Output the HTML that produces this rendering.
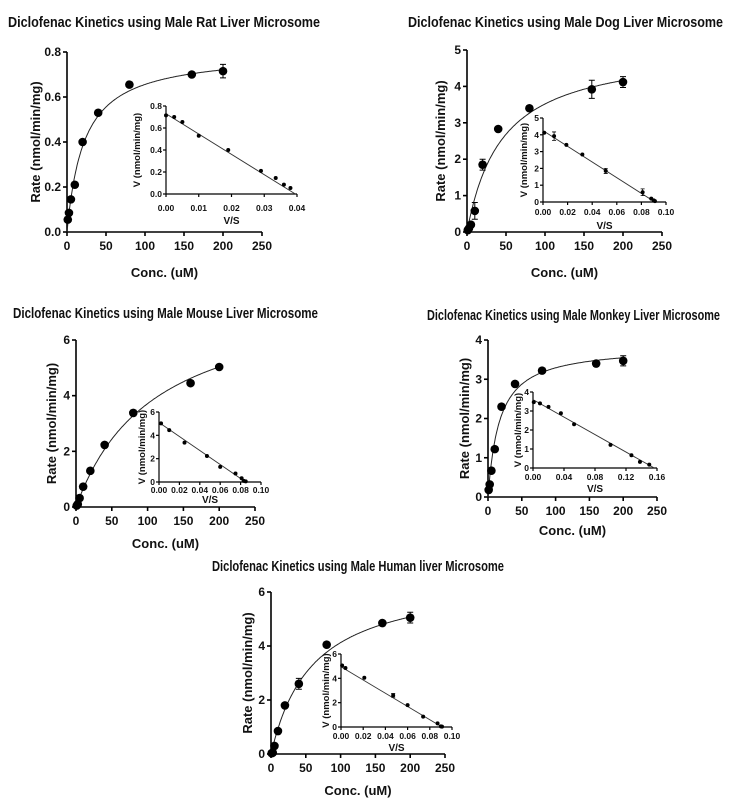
<!DOCTYPE html>
<html><head><meta charset="utf-8">
<style>
html,body{margin:0;padding:0;background:#fff;}
svg{display:block;font-family:"Liberation Sans",sans-serif;}
</style></head>
<body>
<svg id="fig" width="734" height="805" viewBox="0 0 734 805"></svg>
<script>
// ---- data ----
const conc = [1, 2.5, 5, 10, 20, 40, 80, 160, 200];
const ratRate = [0.055, 0.085, 0.145, 0.21, 0.40, 0.53, 0.655, 0.70, 0.715];
const ratErr = [0, 0, 0, 0, 0, 0, 0, 0, 0.03];
const dogRate = [0.05, 0.1, 0.2, 0.58, 1.85, 2.83, 3.4, 3.92, 4.12];
const dogErr = [0, 0, 0, 0.23, 0.15, 0, 0, 0.25, 0.15];
const mouseRate = [0.05, 0.1, 0.32, 0.73, 1.3, 2.23, 3.38, 4.45, 5.03];
const mouseErr = [0, 0, 0, 0, 0, 0, 0.1, 0.08, 0.06];
const monkeyRate = [0.18, 0.32, 0.67, 1.22, 2.3, 2.88, 3.22, 3.4, 3.47];
const monkeyErr = [0, 0, 0, 0, 0, 0, 0, 0.05, 0.13];
const humanRate = [0.03, 0.05, 0.3, 0.85, 1.8, 2.6, 4.05, 4.85, 5.05];
const humanErr = [0, 0, 0, 0, 0, 0.2, 0, 0.06, 0.2];
// Michaelis-Menten fit params [Vmax, Km]
const ratFit = [0.8, 22];
const dogFit = [5.1, 45];
const mouseFit = [7.8, 110];
const monkeyFit = [3.85, 17];
const humanFit = [6.6, 60];
// Eadie-Hofstee inset data: V/S and V
const ratVS = [0, 0.0025, 0.005, 0.01, 0.019, 0.029, 0.0335, 0.036, 0.038];
const ratV = [0.715, 0.70, 0.655, 0.53, 0.40, 0.21, 0.145, 0.085, 0.055];
const dogVS = [0.001, 0.009, 0.019, 0.032, 0.051, 0.081, 0.088, 0.09, 0.091];
const dogV = [4.12, 3.92, 3.4, 2.83, 1.85, 0.58, 0.2, 0.1, 0.05];
const dogVErr = [0, 0.25, 0, 0, 0.15, 0.2, 0, 0, 0];
const mouseVS = [0.002, 0.01, 0.025, 0.047, 0.06, 0.075, 0.081, 0.083, 0.085];
const mouseV = [5.03, 4.45, 3.38, 2.23, 1.3, 0.73, 0.32, 0.1, 0.05];
const monkeyVS = [0.001, 0.009, 0.02, 0.036, 0.053, 0.1, 0.127, 0.138, 0.15];
const monkeyV = [3.47, 3.4, 3.22, 2.88, 2.3, 1.22, 0.67, 0.32, 0.18];
const humanVS = [0.001, 0.004, 0.021, 0.047, 0.06, 0.074, 0.087, 0.09, 0.091];
const humanV = [5.05, 4.85, 4.05, 2.6, 1.8, 0.85, 0.3, 0.05, 0.03];
const humanVErr = [0, 0, 0, 0.15, 0, 0, 0, 0, 0];
// inset regression lines [intercept V, x-intercept V/S]
const ratLine = [0.73, 0.0395];
const dogLine = [4.25, 0.091];
const mouseLine = [5.1, 0.085];
const monkeyLine = [3.6, 0.1565];
const humanLine = [4.95, 0.091];
// tick labels
const xTicksMain = [0, 50, 100, 150, 200, 250];
const ratYTicks = ["0.0","0.2","0.4","0.6","0.8"];
const dogYTicks = ["0","1","2","3","4","5"];
const sixTicks = ["0","2","4","6"];
const fourTicks = ["0","1","2","3","4"];
const ratInsetX = ["0.00","0.01","0.02","0.03","0.04"];
const tenInsetX = ["0.00","0.02","0.04","0.06","0.08","0.10"];
const monkeyInsetX = ["0.00","0.04","0.08","0.12","0.16"];
const titles = [
 "Diclofenac Kinetics using Male Rat Liver Microsome",
 "Diclofenac Kinetics using Male Dog Liver Microsome",
 "Diclofenac Kinetics using Male Mouse Liver Microsome",
 "Diclofenac Kinetics using Male Monkey Liver Microsome",
 "Diclofenac Kinetics using Male Human liver Microsome"];

// ---- layout ----
const panels = [
 {key:"rat", title:titles[0], tx:8, tw:312, ty:27, rate:ratRate, err:ratErr, fit:ratFit, yT:ratYTicks,
  m:{x0:67,x1:262,y0:232,y1:52}, ytl:40, xtY:277,
  vs:ratVS, v:ratV, verr:null, line:ratLine, ixT:ratInsetX, iyT:ratYTicks,
  i:{x0:166,x1:297,y0:194,y1:106}, iytl:140, iticY:211, ivsY:224},
 {key:"dog", title:titles[1], tx:408, tw:315, ty:27, rate:dogRate, err:dogErr, fit:dogFit, yT:dogYTicks,
  m:{x0:467,x1:662,y0:232,y1:50}, ytl:445, xtY:277,
  vs:dogVS, v:dogV, verr:dogVErr, line:dogLine, ixT:tenInsetX, iyT:dogYTicks,
  i:{x0:543,x1:666,y0:202,y1:118}, iytl:527, iticY:215, ivsY:229},
 {key:"mouse", title:titles[2], tx:13, tw:305, ty:318, rate:mouseRate, err:mouseErr, fit:mouseFit, yT:sixTicks,
  m:{x0:76,x1:255,y0:507,y1:340}, ytl:56, xtY:548,
  vs:mouseVS, v:mouseV, verr:null, line:mouseLine, ixT:tenInsetX, iyT:sixTicks,
  i:{x0:159,x1:261,y0:482,y1:412}, iytl:145, iticY:493, ivsY:503},
 {key:"monkey", title:titles[3], tx:427, tw:293, ty:320, rate:monkeyRate, err:monkeyErr, fit:monkeyFit, yT:fourTicks,
  m:{x0:488,x1:657,y0:497,y1:340}, ytl:469, xtY:535,
  vs:monkeyVS, v:monkeyV, verr:null, line:monkeyLine, ixT:monkeyInsetX, iyT:fourTicks,
  i:{x0:533,x1:657,y0:468,y1:392}, iytl:521, iticY:480, ivsY:492},
 {key:"human", title:titles[4], tx:212, tw:292, ty:571, rate:humanRate, err:humanErr, fit:humanFit, yT:sixTicks,
  m:{x0:271,x1:445,y0:754,y1:592}, ytl:252, xtY:795,
  vs:humanVS, v:humanV, verr:humanVErr, line:humanLine, ixT:tenInsetX, iyT:sixTicks,
  i:{x0:341,x1:452,y0:727,y1:654}, iytl:329, iticY:739, ivsY:751}
];

const NS = "http://www.w3.org/2000/svg";
const svg = document.getElementById("fig");
function mk(tag, attrs, parent, txt){
  const e = document.createElementNS(NS, tag);
  for (const k in attrs) e.setAttribute(k, attrs[k]);
  if (txt !== undefined) e.textContent = txt;
  parent.appendChild(e);
  return e;
}
function scale(d0, d1, r0, r1){ return v => r0 + (v - d0) / (d1 - d0) * (r1 - r0); }

panels.forEach(p => {
  const g = mk("g", {}, svg);
  
  

  const t = mk("text", {x:p.tx, y:p.ty, "font-size":15, "font-weight":"bold", textLength:p.tw, lengthAdjust:"spacingAndGlyphs", fill:"#111"}, g, p.title);
  
  

  // ---- main plot ----
  const yMax = parseFloat(p.yT[p.yT.length-1]);
  const X = scale(0, 250, p.m.x0, p.m.x1);
  const Y = scale(0, yMax, p.m.y0, p.m.y1);
  const ax = mk("g", {stroke:"#000", "stroke-width":1.6, fill:"none"}, g);
  
  
  mk("line", {x1:p.m.x0, y1:p.m.y1, x2:p.m.x0, y2:p.m.y0}, ax);
  mk("line", {x1:p.m.x0, y1:p.m.y0, x2:p.m.x1, y2:p.m.y0}, ax);
  xTicksMain.forEach(v => {
    mk("line", {x1:X(v), y1:p.m.y0, x2:X(v), y2:p.m.y0+4}, ax);
    const tl = mk("text", {x:X(v), y:p.m.y0+18, "font-size":12, "font-weight":"bold", "text-anchor":"middle", stroke:"none", fill:"#111"}, g, v);
    
    
  });
  p.yT.forEach(s => {
    const v = parseFloat(s);
    mk("line", {x1:p.m.x0-4, y1:Y(v), x2:p.m.x0, y2:Y(v)}, ax);
    const tl = mk("text", {x:p.m.x0-6, y:Y(v)+4, "font-size":12, "font-weight":"bold", "text-anchor":"end", stroke:"none", fill:"#111"}, g, s);
    
    
  });
  const xt = mk("text", {x:(p.m.x0+p.m.x1)/2, y:p.xtY, "font-size":13, "font-weight":"bold", "text-anchor":"middle", fill:"#111"}, g, "Conc. (uM)");
  
  
  const ymid = (p.m.y0+p.m.y1)/2;
  const yt = mk("text", {x:p.ytl, y:ymid, "font-size":13, "font-weight":"bold", "text-anchor":"middle", transform:`rotate(-90 ${p.ytl} ${ymid})`, fill:"#111"}, g, "Rate (nmol/min/mg)");
  
  

  // fit curve
  let d = "";
  for (let s = 0; s <= 200; s += 1) {
    const v = p.fit[0]*s/(p.fit[1]+s);
    d += (s===0?"M":"L") + X(s).toFixed(1) + "," + Y(v).toFixed(1);
  }
  const fc = mk("path", {d:d, stroke:"#222", "stroke-width":1, fill:"none"}, g);
  
  

  conc.forEach((c, k) => {
    const e = p.err[k];
    if (e > 0) {
      const eb = mk("path", {d:`M${X(c)-3},${Y(p.rate[k]+e)}H${X(c)+3}M${X(c)},${Y(p.rate[k]+e)}V${Y(p.rate[k]-e)}M${X(c)-3},${Y(p.rate[k]-e)}H${X(c)+3}`, stroke:"#000", "stroke-width":1, fill:"none"}, g);
      
      
    }
    const pt = mk("circle", {cx:X(c), cy:Y(p.rate[k]), r:4.3, fill:"#000"}, g);
    
    
  });

  // ---- inset ----
  const iyMax = parseFloat(p.iyT[p.iyT.length-1]);
  const ixMax = parseFloat(p.ixT[p.ixT.length-1]);
  const IX = scale(0, ixMax, p.i.x0, p.i.x1);
  const IY = scale(0, iyMax, p.i.y0, p.i.y1);
  const ia = mk("g", {stroke:"#000", "stroke-width":1.2, fill:"none"}, g);
  
  
  mk("line", {x1:p.i.x0, y1:p.i.y1, x2:p.i.x0, y2:p.i.y0}, ia);
  mk("line", {x1:p.i.x0, y1:p.i.y0, x2:p.i.x1, y2:p.i.y0}, ia);
  p.ixT.forEach(s => {
    const v = parseFloat(s);
    mk("line", {x1:IX(v), y1:p.i.y0, x2:IX(v), y2:p.i.y0+3}, ia);
    const tl = mk("text", {x:IX(v), y:p.iticY, "font-size":8.5, "font-weight":"bold", "text-anchor":"middle", stroke:"none", fill:"#111"}, g, s);
    
    
  });
  p.iyT.forEach(s => {
    const v = parseFloat(s);
    mk("line", {x1:p.i.x0-3, y1:IY(v), x2:p.i.x0, y2:IY(v)}, ia);
    const tl = mk("text", {x:p.i.x0-4, y:IY(v)+3, "font-size":8.5, "font-weight":"bold", "text-anchor":"end", stroke:"none", fill:"#111"}, g, s);
    
    
  });
  const vs = mk("text", {x:(p.i.x0+p.i.x1)/2, y:p.ivsY, "font-size":10, "font-weight":"bold", "text-anchor":"middle", fill:"#111"}, g, "V/S");
  
  
  const iym = (p.i.y0+p.i.y1)/2;
  const iyt = mk("text", {x:p.iytl, y:iym, "font-size":9.5, "font-weight":"bold", "text-anchor":"middle", transform:`rotate(-90 ${p.iytl} ${iym})`, fill:"#111"}, g, "V (nmol/min/mg)");
  
  
  const rl = mk("line", {x1:IX(0), y1:IY(p.line[0]), x2:IX(p.line[1]), y2:IY(0), stroke:"#333", "stroke-width":0.9}, g);
  
  
  p.vs.forEach((x, k) => {
    if (p.verr && p.verr[k] > 0) {
      const e = p.verr[k];
      const eb = mk("path", {d:`M${IX(x)-2},${IY(p.v[k]+e)}H${IX(x)+2}M${IX(x)},${IY(p.v[k]+e)}V${IY(p.v[k]-e)}M${IX(x)-2},${IY(p.v[k]-e)}H${IX(x)+2}`, stroke:"#000", "stroke-width":0.8, fill:"none"}, g);
      
      
    }
    const ip = mk("circle", {cx:IX(x), cy:IY(p.v[k]), r:2, fill:"#000"}, g);
    
    
  });
});
</script>
</body></html>
